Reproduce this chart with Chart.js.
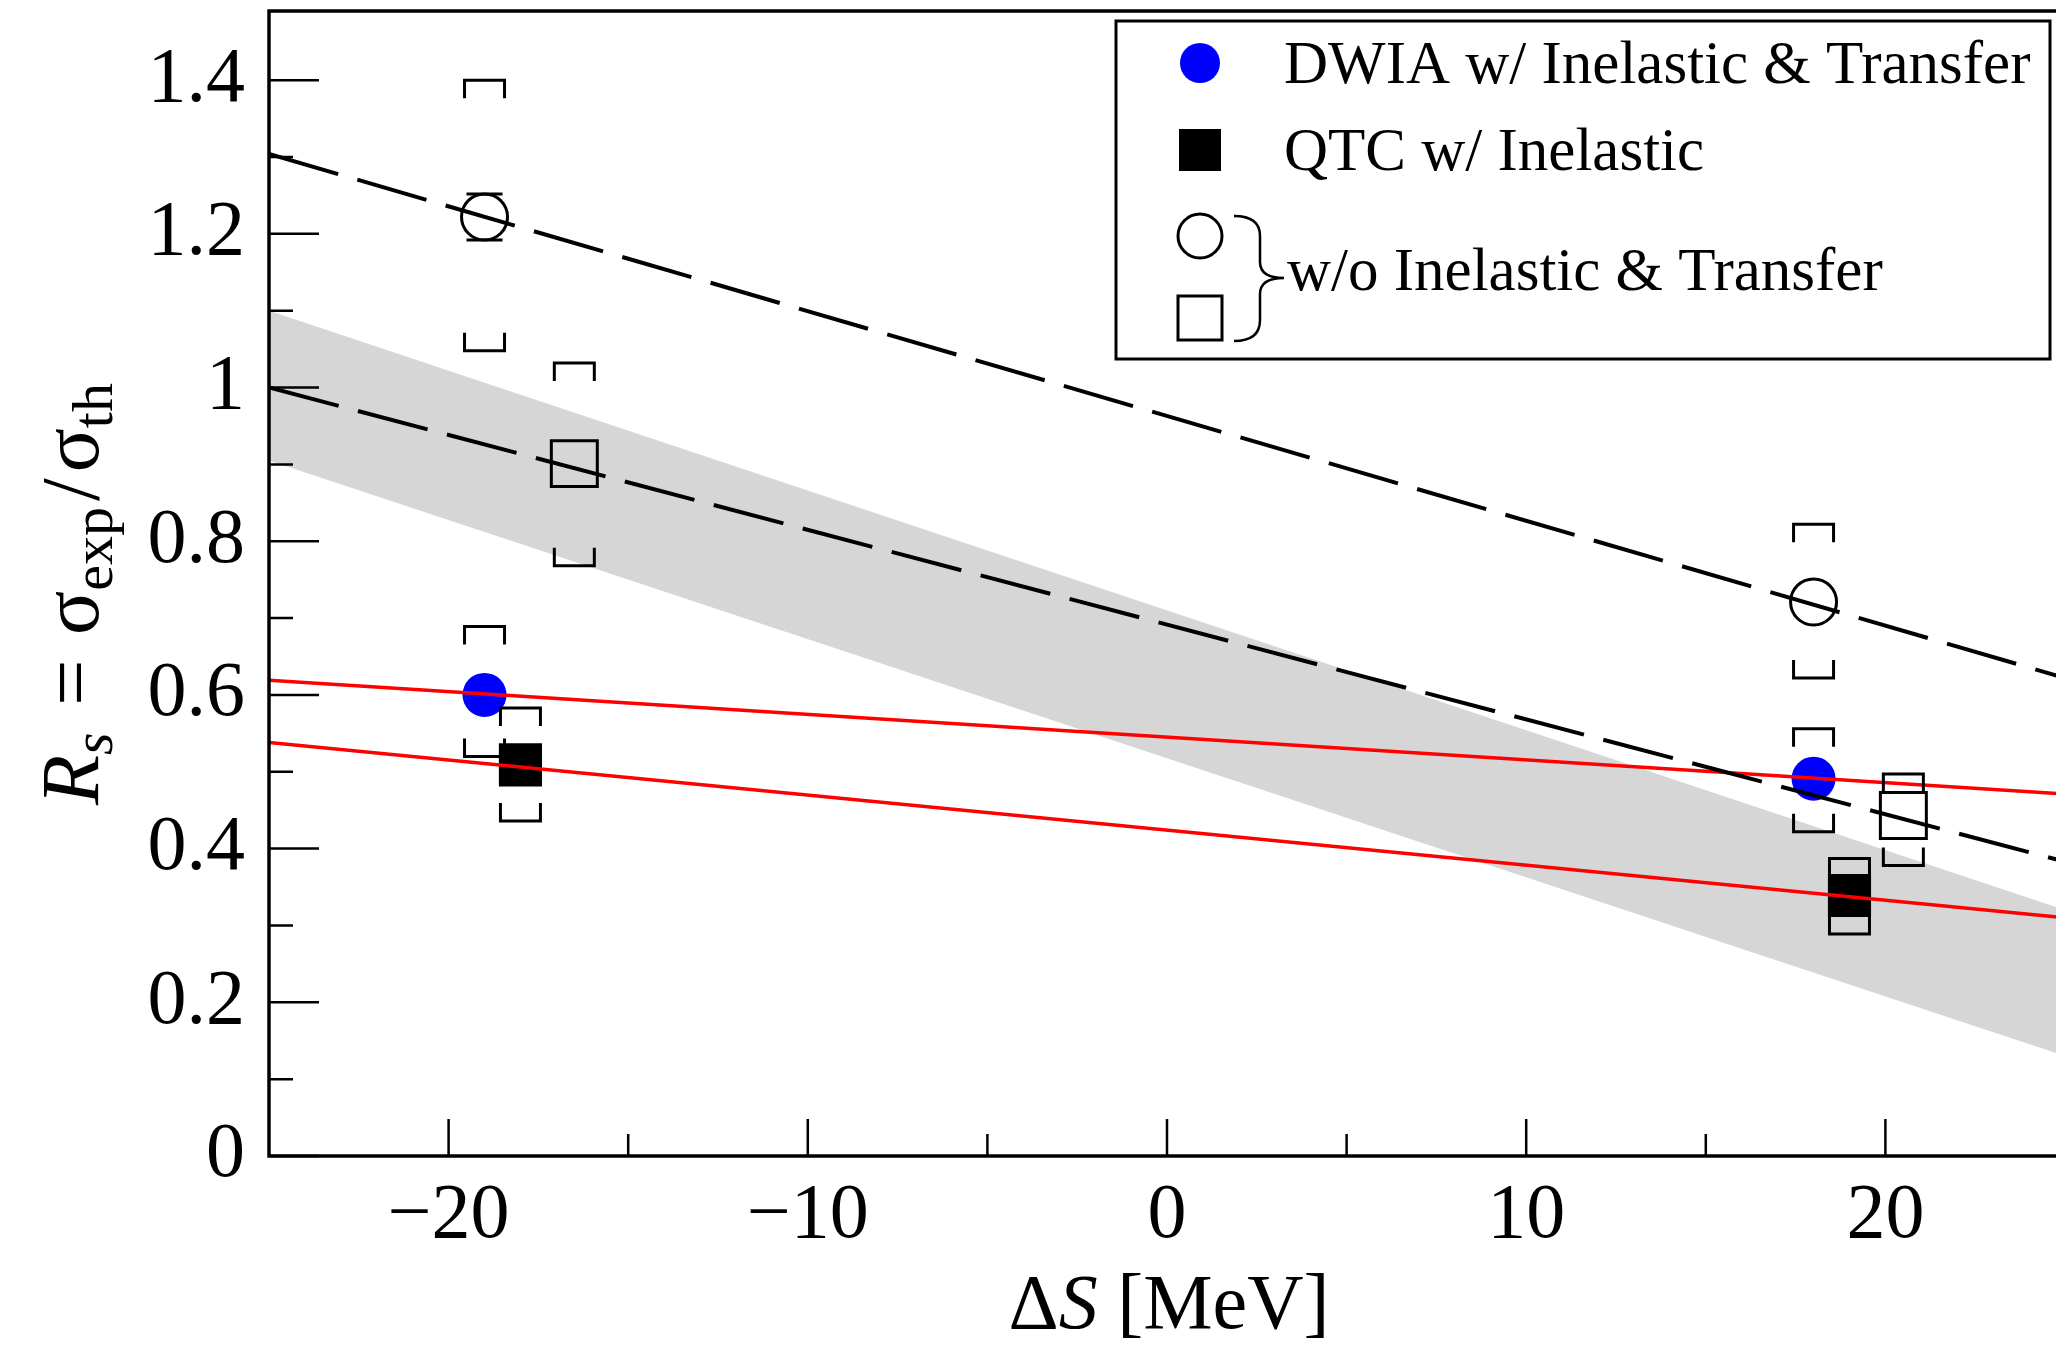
<!DOCTYPE html>
<html>
<head>
<meta charset="utf-8">
<script src="https://cdn.jsdelivr.net/npm/chart.js@4.4.1/dist/chart.umd.min.js"></script>
<style>
  html, body { margin: 0; padding: 0; background: #fff; overflow: hidden; }
  canvas { display: block; }
</style>
</head>
<body>
<canvas id="rs-chart" width="2070" height="1352"></canvas>
<script>
// axis ticks
const xTicks = [-20, -10, 0, 10, 20];
const xTickLabels = ["\u221220", "\u221210", "0", "10", "20"];
const xMinorTicks = [-15, -5, 5, 15];
const yTicks = [0, 0.2, 0.4, 0.6, 0.8, 1, 1.2, 1.4];
const yTickLabels = ["0", "0.2", "0.4", "0.6", "0.8", "1", "1.2", "1.4"];
const yMinorTicks = [0.1, 0.3, 0.5, 0.7, 0.9, 1.1, 1.3];

// DWIA w/ Inelastic & Transfer (blue circles)
const dwiaX = [-19, 18];
const dwiaY = [0.600, 0.491];
const dwiaSysLo = [0.520, 0.422];
const dwiaSysHi = [0.689, 0.556];

// QTC w/ Inelastic (black squares)
const qtcX = [-18, 19];
const qtcY = [0.509, 0.339];
const qtcSysLo = [0.436, 0.289];
const qtcSysHi = [0.583, 0.387];

// DWIA w/o Inelastic & Transfer (open circles)
const dwiaNoX = [-19, 18];
const dwiaNoY = [1.222, 0.721];
const dwiaNoErr = [0.03, 0];
const dwiaNoSysLo = [1.048, 0.622];
const dwiaNoSysHi = [1.400, 0.822];

// QTC w/o Inelastic & Transfer (open squares)
const qtcNoX = [-16.5, 20.5];
const qtcNoY = [0.901, 0.443];
const qtcNoSysLo = [0.768, 0.378];
const qtcNoSysHi = [1.032, 0.497];

// fitted lines and band
const fitX = [-25, 25];
const dashUpperY = [1.304, 0.622];
const dashLowerY = [1.000, 0.383];
const redUpperY = [0.619, 0.471];
const redLowerY = [0.538, 0.310];
const bandTopY = [1.100, 0.320];
const bandBottomY = [0.905, 0.130];

const FONT = "'Liberation Serif', 'Times New Roman', serif";

function pts(xs, ys) {
  return xs.map((x, i) => ({ x: x, y: ys[i] }));
}

function bracket(ctx, px, py, halfW, leg) {
  ctx.beginPath();
  ctx.moveTo(px - halfW, py + leg);
  ctx.lineTo(px - halfW, py);
  ctx.lineTo(px + halfW, py);
  ctx.lineTo(px + halfW, py + leg);
  ctx.stroke();
}

function drawSys(chart, xs, lo, hi) {
  const ctx = chart.ctx;
  const xs_ = chart.scales.x, ys_ = chart.scales.y;
  xs.forEach((x, i) => {
    const px = xs_.getPixelForValue(x);
    bracket(ctx, px, ys_.getPixelForValue(hi[i]), 20, 18);
    bracket(ctx, px, ys_.getPixelForValue(lo[i]), 20, -18);
  });
}

// draws text pieces one after another, returns total width
function richText(ctx, parts, x, y, measureOnly) {
  let w = 0;
  parts.forEach(p => {
    ctx.font = p.f;
    if (!measureOnly) ctx.fillText(p.t, x + w, y + (p.dy || 0));
    w += ctx.measureText(p.t).width + (p.gap || 0);
  });
  return w;
}

const decorations = {
  id: "decorations",
  afterDatasetsDraw(chart) {
    const ctx = chart.ctx;
    ctx.save();
    ctx.strokeStyle = "#000";
    ctx.lineWidth = 3;
    drawSys(chart, dwiaX, dwiaSysLo, dwiaSysHi);
    drawSys(chart, qtcX, qtcSysLo, qtcSysHi);
    drawSys(chart, dwiaNoX, dwiaNoSysLo, dwiaNoSysHi);
    drawSys(chart, qtcNoX, qtcNoSysLo, qtcNoSysHi);
    // statistical error caps
    dwiaNoX.forEach((x, i) => {
      if (!dwiaNoErr[i]) return;
      const px = chart.scales.x.getPixelForValue(x);
      [dwiaNoY[i] + dwiaNoErr[i], dwiaNoY[i] - dwiaNoErr[i]].forEach(v => {
        const py = chart.scales.y.getPixelForValue(v);
        ctx.beginPath();
        ctx.moveTo(px - 18, py);
        ctx.lineTo(px + 18, py);
        ctx.stroke();
      });
    });
    ctx.restore();
  },
  afterDraw(chart) {
    const ctx = chart.ctx;
    const { left, right, top, bottom } = chart.chartArea;
    const sx = chart.scales.x, sy = chart.scales.y;
    ctx.save();
    ctx.strokeStyle = "#000";
    ctx.fillStyle = "#000";

    // frame
    ctx.lineWidth = 3.5;
    ctx.strokeRect(left, top, right - left, bottom - top);

    // inward ticks
    ctx.lineWidth = 2.5;
    ctx.beginPath();
    xTicks.forEach(v => { const p = sx.getPixelForValue(v); ctx.moveTo(p, bottom); ctx.lineTo(p, bottom - 37); });
    xMinorTicks.forEach(v => { const p = sx.getPixelForValue(v); ctx.moveTo(p, bottom); ctx.lineTo(p, bottom - 22); });
    yTicks.forEach(v => { const p = sy.getPixelForValue(v); ctx.moveTo(left, p); ctx.lineTo(left + 50, p); });
    yMinorTicks.forEach(v => { const p = sy.getPixelForValue(v); ctx.moveTo(left, p); ctx.lineTo(left + 24, p); });
    ctx.stroke();

    // x title
    ctx.textBaseline = "alphabetic";
    const xParts = [
      { t: "\u0394", f: "78px " + FONT },
      { t: "S", f: "italic 78px " + FONT },
      { t: " [MeV]", f: "78px " + FONT }
    ];
    const xw = richText(ctx, xParts, 0, 0, true);
    richText(ctx, xParts, (left + sx.getPixelForValue(25)) / 2 - xw / 2 + 2, 1328);

    // y title, rotated
    const yParts = [
      { t: "R", f: "italic 82px " + FONT },
      { t: "s", f: "italic 58px " + FONT, dy: 14, gap: 6 },
      { t: " = ", f: "82px " + FONT, gap: 4 },
      { t: "\u03c3", f: "82px " + FONT },
      { t: "exp", f: "58px " + FONT, dy: 14, gap: 6 },
      { t: "/", f: "82px " + FONT, gap: 6 },
      { t: "\u03c3", f: "82px " + FONT },
      { t: "th", f: "58px " + FONT, dy: 14 }
    ];
    const yw = richText(ctx, yParts, 0, 0, true);
    ctx.save();
    ctx.translate(98, 594);
    ctx.rotate(-Math.PI / 2);
    richText(ctx, yParts, -yw / 2, 0);
    ctx.restore();

    // legend
    ctx.lineWidth = 3;
    ctx.fillStyle = "#fff";
    ctx.fillRect(1116, 21, 934, 338);
    ctx.strokeRect(1116, 21, 934, 338);
    ctx.fillStyle = "#0000ff";
    ctx.beginPath();
    ctx.arc(1200, 63, 20, 0, Math.PI * 2);
    ctx.fill();
    ctx.fillStyle = "#000";
    ctx.fillRect(1179, 129, 42, 42);
    ctx.beginPath();
    ctx.arc(1200, 236, 22, 0, Math.PI * 2);
    ctx.stroke();
    ctx.strokeRect(1178, 296, 44, 44);
    // brace
    ctx.lineWidth = 2.5;
    ctx.beginPath();
    ctx.moveTo(1234, 216);
    ctx.quadraticCurveTo(1260, 216, 1260, 236);
    ctx.lineTo(1260, 262);
    ctx.quadraticCurveTo(1260, 278, 1284, 278);
    ctx.quadraticCurveTo(1260, 278, 1260, 294);
    ctx.lineTo(1260, 320);
    ctx.quadraticCurveTo(1260, 341, 1234, 341);
    ctx.stroke();
    ctx.font = "61px " + FONT;
    ctx.fillText("DWIA w/ Inelastic & Transfer", 1284, 83);
    ctx.fillText("QTC w/ Inelastic", 1284, 170);
    ctx.fillText("w/o Inelastic & Transfer", 1287, 290);
    ctx.restore();
  }
};

const lineStyle = { pointRadius: 0, fill: false, tension: 0 };

const ctx = document.getElementById("rs-chart").getContext("2d");
const myChart = new Chart(ctx, {
  type: "line",
  data: {
    datasets: [
      { ...lineStyle, data: pts(fitX, dashUpperY), borderColor: "#000", borderWidth: 4, borderDash: [72, 20], order: 1 },
      { ...lineStyle, data: pts(fitX, dashLowerY), borderColor: "#000", borderWidth: 4, borderDash: [72, 20], order: 1 },
      { ...lineStyle, data: pts(fitX, redUpperY), borderColor: "#ff0000", borderWidth: 3.5, order: 1 },
      { ...lineStyle, data: pts(fitX, redLowerY), borderColor: "#ff0000", borderWidth: 3.5, order: 1 },
      { data: pts(dwiaX, dwiaY), showLine: false, pointStyle: "circle", pointRadius: 22,
        backgroundColor: "#0000ff", borderColor: "#0000ff", borderWidth: 0, order: 5 },
      { data: pts(qtcX, qtcY), showLine: false, pointStyle: "rect", pointRadius: 30.5,
        backgroundColor: "#000", borderColor: "#000", borderWidth: 0, order: 5 },
      { data: pts(dwiaNoX, dwiaNoY), showLine: false, pointStyle: "circle", pointRadius: 23,
        backgroundColor: "rgba(0,0,0,0)", borderColor: "#000", borderWidth: 3, order: 5 },
      { data: pts(qtcNoX, qtcNoY), showLine: false, pointStyle: "rect", pointRadius: 32.5,
        backgroundColor: "rgba(0,0,0,0)", borderColor: "#000", borderWidth: 3, order: 5 },
      { ...lineStyle, data: pts(fitX, bandTopY), borderWidth: 0, borderColor: "rgba(0,0,0,0)",
        fill: "+1", backgroundColor: "#d6d6d6", order: 10 },
      { ...lineStyle, data: pts(fitX, bandBottomY), borderWidth: 0, borderColor: "rgba(0,0,0,0)", order: 10 }
    ]
  },
  options: {
    responsive: false,
    animation: false,
    events: [],
    layout: { autoPadding: false, padding: { top: 11, right: 5, left: 0, bottom: 0 } },
    plugins: { legend: { display: false }, tooltip: { enabled: false } },
    scales: {
      x: {
        type: "linear",
        min: -25,
        max: 25,
        grid: { display: false, drawTicks: false },
        border: { display: false },
        afterBuildTicks: s => { s.ticks = xTicks.map(v => ({ value: v })); },
        afterFit: s => { s.height = 196; s.paddingLeft = 0; s.paddingRight = 0; },
        ticks: {
          color: "#000",
          padding: 14,
          maxRotation: 0,
          font: { family: FONT, size: 78 },
          callback: (v, i) => xTickLabels[i]
        }
      },
      y: {
        min: 0,
        max: 1.49,
        grid: { display: false, drawTicks: false },
        border: { display: false },
        afterBuildTicks: s => { s.ticks = yTicks.map(v => ({ value: v })); },
        afterFit: s => { s.width = 269; s.paddingTop = 0; s.paddingBottom = 0; },
        ticks: {
          color: "#000",
          padding: 24,
          font: { family: FONT, size: 78 },
          callback: (v, i) => yTickLabels[i]
        }
      }
    }
  },
  plugins: [decorations]
});
</script>
</body>
</html>
